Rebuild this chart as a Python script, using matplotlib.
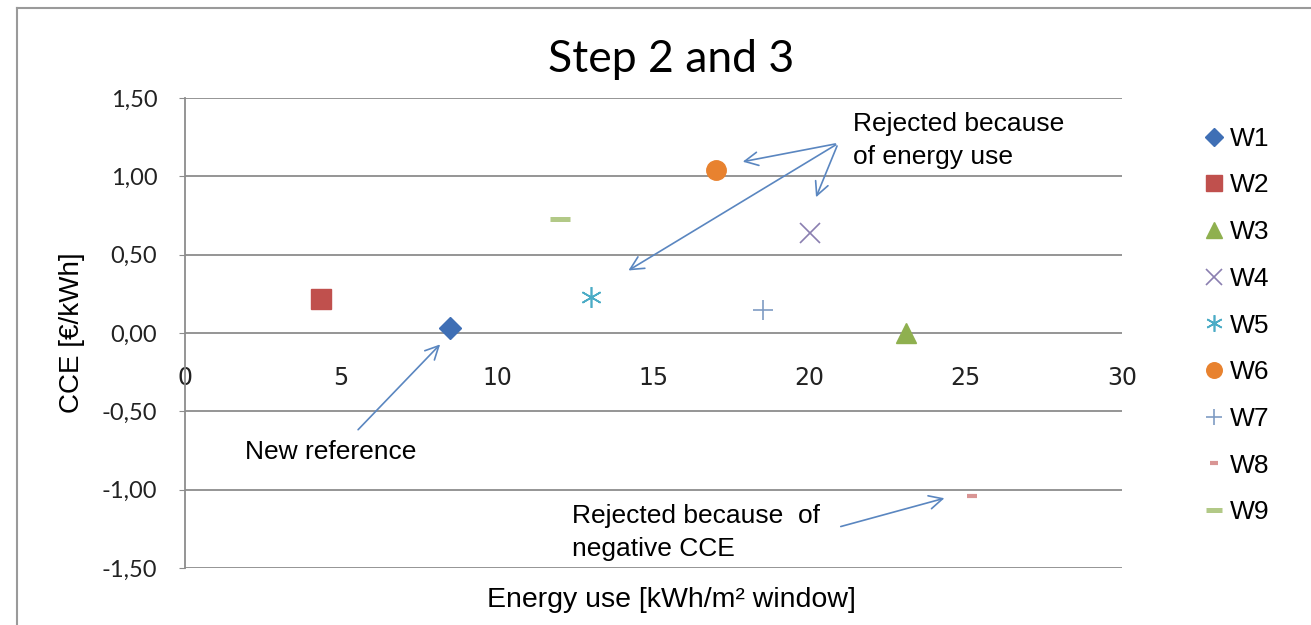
import matplotlib.pyplot as plt
from matplotlib.lines import Line2D

# data
names = ['W1', 'W2', 'W3', 'W4', 'W5', 'W6', 'W7', 'W8', 'W9']
energy = [8.5, 4.35, 23.1, 20.0, 13.0, 17.0, 18.5, 25.2, 12.0]
cce = [0.03, 0.22, 0.0, 0.64, 0.23, 1.04, 0.15, -1.04, 0.73]

x_ticks = [0, 5, 10, 15, 20, 25, 30]
y_ticks = [-1.5, -1.0, -0.5, 0.0, 0.5, 1.0, 1.5]

# marker styles per series: (marker, colour, size, edge width, filled)
styles = [
    ('D', '#3f6fb5', 11, 0, True),
    ('s', '#c0504d', 14, 0, True),
    ('^', '#8fb04f', 14, 0, True),
    ('x', '#8a7fb0', 14, 1.2, False),
    ((6, 2, 0), '#4bacc6', 15, 1.2, False),
    ('o', '#e8822f', 14, 0, True),
    ('+', '#7f9cc4', 15, 1.2, False),
    ('_', '#d99594', 7, 3.0, False),
    ('_', '#b2c987', 14, 3.6, False),
]

arrow_col = '#5a86c0'
grid_col = '#8c8c8c'
arial = 'Liberation Sans'

fig = plt.figure(figsize=(13.11, 6.25), dpi=100, facecolor='white')
ax = fig.add_axes([185/1311, 1-568/625, 937/1311, 470/625])

handles = []
for name, xv, yv, st in zip(names, energy, cce, styles):
    mk, col, ms, mew, filled = st
    if filled:
        h, = ax.plot([xv], [yv], linestyle='none', marker=mk, markersize=ms,
                     markerfacecolor=col, markeredgecolor=col, label=name)
    else:
        h, = ax.plot([xv], [yv], linestyle='none', marker=mk, markersize=ms,
                     color=col, markeredgewidth=mew, label=name)
    handles.append(h)

ax.set_xlim(0, 30)
ax.set_ylim(-1.5, 1.5)
ax.set_yticks(y_ticks)
ax.set_yticklabels([('%.2f' % v).replace('.', ',') for v in y_ticks])
ax.set_xticks(x_ticks)
ax.set_xticklabels([str(v) for v in x_ticks])

for s in ['top', 'right', 'bottom']:
    ax.spines[s].set_visible(False)
ax.spines['left'].set_color(grid_col)
ax.spines['left'].set_linewidth(1.3)
for v in y_ticks:
    ax.axhline(v, color=grid_col, lw=1.3, zorder=0)

ax.tick_params(axis='x', length=0, pad=24, labelsize=17, labelcolor='#222222')
ax.tick_params(axis='y', length=4, color=grid_col, pad=16, labelsize=17,
               labelcolor='#222222')
for lab in ax.get_xticklabels() + ax.get_yticklabels():
    lab.set_family('Lato')
# x labels hang under the zero line like in Excel
ax.spines['bottom'].set_position(('data', 0))

ax.set_ylabel('CCE [€/kWh]', fontsize=20, family=arial, labelpad=12)
fig.text(671/1311, 1-600/625, 'Energy use [kWh/m² window]', fontsize=20.5,
         family=arial, ha='center', va='center')
fig.text(671/1311, 1-60/625, 'Step 2 and 3', fontsize=32, family='Lato',
         ha='center', va='center')

arr = dict(arrowstyle='->', color=arrow_col, lw=1.2, mutation_scale=24)
# new reference
ax.annotate('', xy=(8.23, -0.06), xytext=(5.48, -0.63), arrowprops=arr)
ax.text(1.92, -0.76, 'New reference', fontsize=19, family=arial,
        ha='left', va='center')
# rejected because of energy use
for hx, hy in [(17.77, 1.09), (20.17, 0.85), (14.12, 0.39)]:
    ax.annotate('', xy=(hx, hy), xytext=(20.91, 1.21), arrowprops=arr)
ax.text(21.39, 1.23, 'Rejected because\nof energy use', fontsize=19,
        family=arial, ha='left', va='center', linespacing=1.45)
# rejected because of negative CCE
ax.annotate('', xy=(24.4, -1.05), xytext=(20.91, -1.24), arrowprops=arr)
ax.text(12.39, -1.275, 'Rejected because  of\nnegative CCE', fontsize=19,
        family=arial, ha='left', va='center', linespacing=1.45)

leg = fig.legend(handles=handles, loc='upper left',
                 bbox_to_anchor=(1178/1311, 1-103/625), frameon=False,
                 labelspacing=0.86, handlelength=0.9, handletextpad=0.15,
                 markerscale=0.8, prop={'family': arial, 'size': 19})

# chart area border
fig.add_artist(Line2D([17/1311, 1], [1-8/625, 1-8/625], transform=fig.transFigure,
                      color='#9a9a9a', lw=1.5))
fig.add_artist(Line2D([17/1311, 17/1311], [0, 1-8/625], transform=fig.transFigure,
                      color='#9a9a9a', lw=1.5))

fig.savefig('out.png', dpi=100, facecolor='white')
